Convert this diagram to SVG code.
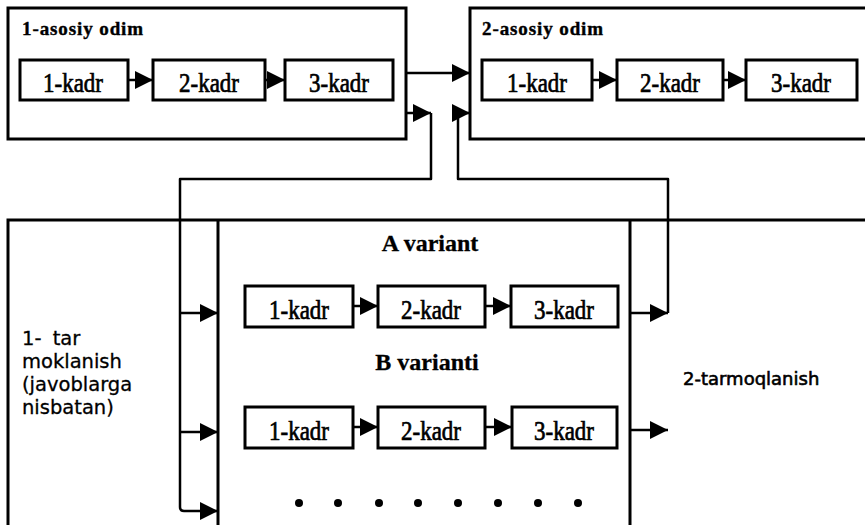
<svg xmlns="http://www.w3.org/2000/svg" width="865" height="525" viewBox="0 0 865 525">
<style>
.box{fill:none;stroke:#000;stroke-width:3}
.kb{fill:#fff;stroke:#000;stroke-width:3}
.con{fill:none;stroke:#000;stroke-width:2.5;stroke-linejoin:round}
.title{font-family:"Liberation Serif",serif;font-weight:bold;font-size:19px;letter-spacing:0.9px;stroke:#000;stroke-width:0.4}
.var{font-family:"Liberation Serif",serif;font-weight:bold;font-size:24px;text-anchor:middle;stroke:#000;stroke-width:0.3}
.kt{font-family:"Liberation Serif",serif;font-size:23px;text-anchor:middle;stroke:#000;stroke-width:0.6}
.side{font-family:"DejaVu Sans",sans-serif;font-size:19.5px;stroke:#000;stroke-width:0.3}
.dot{fill:#000}
</style>
<defs>
<marker id="ah" markerUnits="userSpaceOnUse" markerWidth="19" markerHeight="18" refX="18" refY="9" orient="auto">
<path d="M0,0 L18,9 L0,18 z" fill="#000"/>
</marker>
</defs>
<rect width="865" height="525" fill="#fff"/>

<g id="step1">
<rect class="box" x="8" y="8" width="398" height="131"/>
<text class="title" x="22" y="35">1-asosiy odim</text>
</g>
<g id="step2">
<rect class="box" x="470" y="8" width="410" height="131"/>
<text class="title" x="482" y="35">2-asosiy odim</text>
</g>
<g id="branch1">
<path class="box" d="M8,540 V220 H880"/>
<text class="side" x="22" y="345">1- <tspan dx="5">tar</tspan></text>
<text class="side" x="22" y="368">moklanish</text>
<text class="side" x="22" y="391">(javoblarga</text>
<text class="side" x="22" y="414">nisbatan)</text>
</g>
<g id="variants">
<path class="box" d="M218,220 V530 M630,220 V530"/>
<text class="var" x="430" y="251">A variant</text>
<text class="var" x="427" y="370">B varianti</text>
</g>
<g id="branch2">
<text class="side" x="683" y="385" style="font-size:18px;stroke-width:0.6">2-tarmoqlanish</text>
</g>

<g id="s1k1"><rect class="kb" x="20" y="60" width="108" height="40"/><text class="kt" transform="translate(73,92) scale(1,1.15)">1-kadr</text></g>
<g id="s1k2"><rect class="kb" x="153" y="60" width="112" height="40"/><text class="kt" transform="translate(209,92) scale(1,1.15)">2-kadr</text></g>
<g id="s1k3"><rect class="kb" x="285" y="60" width="108" height="40"/><text class="kt" transform="translate(339,92) scale(1,1.15)">3-kadr</text></g>

<g id="s2k1"><rect class="kb" x="482" y="60" width="110" height="40"/><text class="kt" transform="translate(537,92) scale(1,1.15)">1-kadr</text></g>
<g id="s2k2"><rect class="kb" x="617" y="60" width="106" height="40"/><text class="kt" transform="translate(670,92) scale(1,1.15)">2-kadr</text></g>
<g id="s2k3"><rect class="kb" x="746" y="60" width="111" height="40"/><text class="kt" transform="translate(801,92) scale(1,1.15)">3-kadr</text></g>

<g id="ak1"><rect class="kb" x="245" y="286" width="108" height="41"/><text class="kt" transform="translate(299,319) scale(1,1.15)">1-kadr</text></g>
<g id="ak2"><rect class="kb" x="378" y="286" width="107" height="41"/><text class="kt" transform="translate(431,319) scale(1,1.15)">2-kadr</text></g>
<g id="ak3"><rect class="kb" x="511" y="286" width="107" height="41"/><text class="kt" transform="translate(564,319) scale(1,1.15)">3-kadr</text></g>

<g id="bk1"><rect class="kb" x="245" y="407" width="108" height="41"/><text class="kt" transform="translate(299,440) scale(1,1.15)">1-kadr</text></g>
<g id="bk2"><rect class="kb" x="378" y="407" width="107" height="41"/><text class="kt" transform="translate(431,440) scale(1,1.15)">2-kadr</text></g>
<g id="bk3"><rect class="kb" x="512" y="407" width="105" height="41"/><text class="kt" transform="translate(564,440) scale(1,1.15)">3-kadr</text></g>

<g id="more">
<circle class="dot" cx="299" cy="503" r="4"/>
<circle class="dot" cx="338" cy="503" r="4"/>
<circle class="dot" cx="379" cy="503" r="4"/>
<circle class="dot" cx="418" cy="503" r="4"/>
<circle class="dot" cx="458" cy="503" r="4"/>
<circle class="dot" cx="498" cy="503" r="4"/>
<circle class="dot" cx="538" cy="503" r="4"/>
<circle class="dot" cx="578" cy="503" r="4"/>
</g>

<g id="connectors">
<path class="con" d="M128,80 H153" marker-end="url(#ah)"/>
<path class="con" d="M265,80 H285" marker-end="url(#ah)"/>
<path class="con" d="M592,80 H617" marker-end="url(#ah)"/>
<path class="con" d="M723,80 H746" marker-end="url(#ah)"/>
<path class="con" d="M353,306 H378" marker-end="url(#ah)"/>
<path class="con" d="M485,306 H511" marker-end="url(#ah)"/>
<path class="con" d="M353,427 H378" marker-end="url(#ah)"/>
<path class="con" d="M485,427 H512" marker-end="url(#ah)"/>
<path class="con" d="M406,73 H470" marker-end="url(#ah)"/>
<path class="con" d="M406,113 H431" marker-end="url(#ah)"/>
<path class="con" d="M431,113 V179 H180 V507 Q180,511 184,511 H218" marker-end="url(#ah)"/>
<path class="con" d="M180,313 H218" marker-end="url(#ah)"/>
<path class="con" d="M180,432 H218" marker-end="url(#ah)"/>
<path class="con" d="M630,313 H668" marker-end="url(#ah)"/>
<path class="con" d="M668,313 V179 H458 V113 H470" marker-end="url(#ah)"/>
<path class="con" d="M630,430 H668" marker-end="url(#ah)"/>
</g>
</svg>
